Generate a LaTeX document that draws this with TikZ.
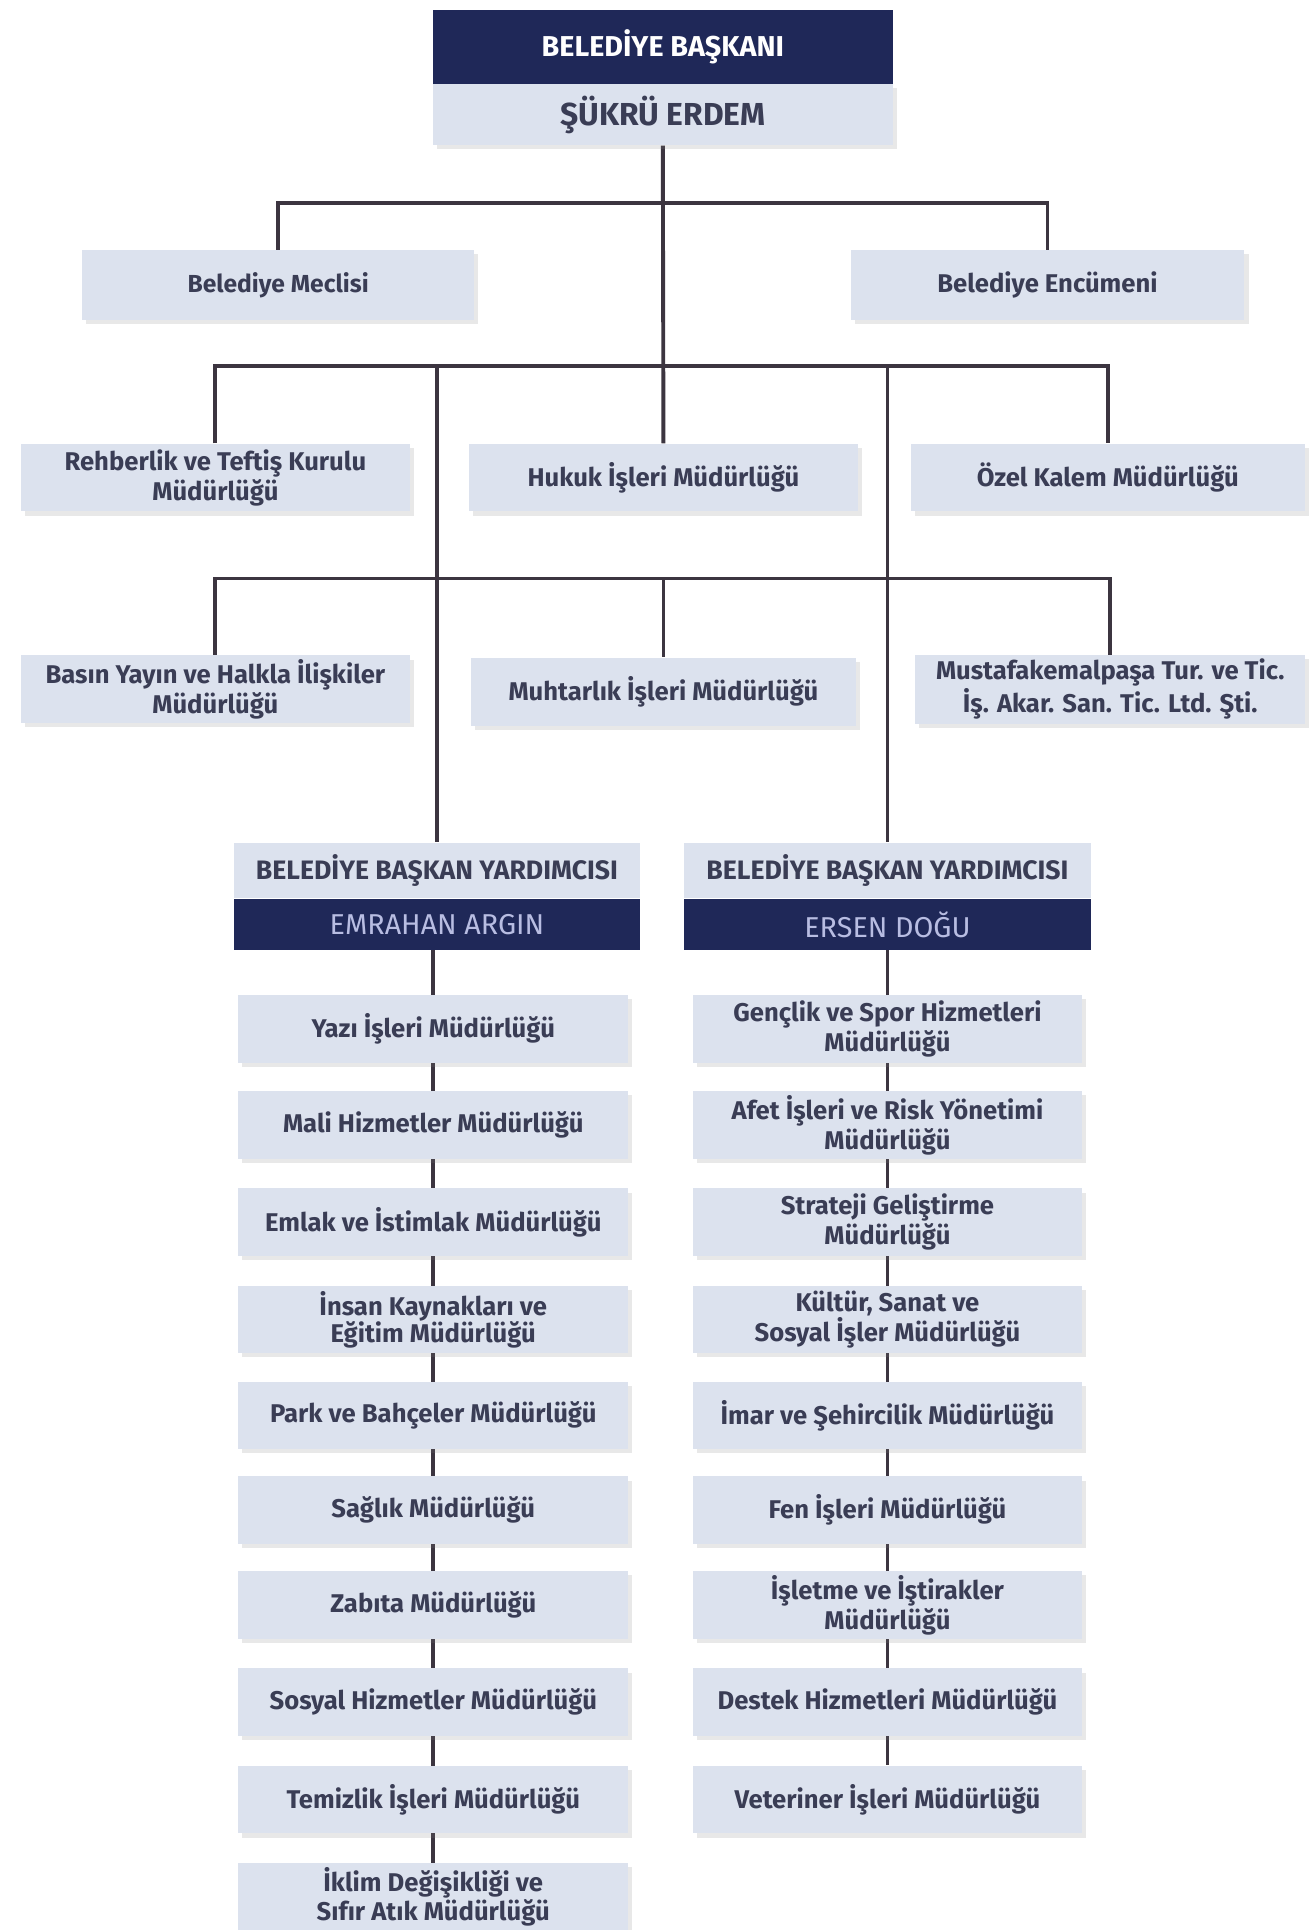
\documentclass[tikz,border=0pt]{standalone}
\usepackage{fontspec}
\setmainfont{Fira Sans}
\usetikzlibrary{shadows,backgrounds}
\definecolor{navy}{HTML}{1F2858}
\definecolor{boxfill}{HTML}{DCE2EE}
\definecolor{txt}{HTML}{3A3D55}
\definecolor{linec}{HTML}{3C3540}
\definecolor{lighttxt}{HTML}{B8BDE2}
\begin{document}
\begin{tikzpicture}[x=0.6pt,y=-0.6pt,
  unitbox/.style={fill=boxfill, text=txt, font=\fontsize{12.5}{13.2}\selectfont\bfseries,
    align=center, inner sep=2pt, minimum width=190pt, minimum height=33pt,
    drop shadow={opacity=0.18, shadow xshift=2pt, shadow yshift=-2pt}},
  navybox/.style={fill=navy, text=white, inner sep=2pt, align=center},
  lightbox/.style={fill=boxfill, text=txt, inner sep=2pt, align=center},
  conn/.style={draw=linec, line width=1.9pt}]
\useasboundingbox (0,0) rectangle (1065,1568);

% top
\node[navybox, minimum width=224pt, minimum height=36pt, font=\fontsize{14}{15}\selectfont\bfseries] (bsk) at (538.5,38) {BELEDİYE BAŞKANI};
\node[lightbox, minimum width=224pt, minimum height=30pt, font=\fontsize{15.5}{16}\selectfont\bfseries,
  drop shadow={opacity=0.18, shadow xshift=2pt, shadow yshift=-2pt}] (name) at (538.5,93) {ŞÜKRÜ ERDEM};

% row 1
\node[unitbox, minimum width=191pt, minimum height=34pt, font=\fontsize{12}{13}\selectfont\bfseries] (meclis) at (226,231.5) {Belediye Meclisi};
\node[unitbox, minimum width=192pt, minimum height=34pt] (encumen) at (851,231.5) {Belediye Encümeni};

% row 2
\node[unitbox] (rehber) at (175,388) {Rehberlik ve Teftiş Kurulu\\Müdürlüğü};
\node[unitbox] (hukuk) at (539,388) {Hukuk İşleri Müdürlüğü};
\node[unitbox, minimum width=192pt] (ozel) at (900,388) {Özel Kalem Müdürlüğü};

% row 3
\node[unitbox] (basin) at (175,560) {Basın Yayın ve Halkla İlişkiler\\Müdürlüğü};
\node[unitbox, minimum width=188pt] (muhtar) at (539,562) {Muhtarlık İşleri Müdürlüğü};
\node[unitbox] (mkp) at (902,560) {Mustafakemalpaşa Tur. ve Tic.\\İş. Akar. San. Tic. Ltd. Şti.};

% deputies
\node[lightbox, minimum width=198pt, minimum height=27pt, font=\fontsize{13}{14}\selectfont\bfseries] (byL) at (355,707) {BELEDİYE BAŞKAN YARDIMCISI};
\node[navybox, minimum width=198pt, minimum height=25pt, text=lighttxt, font=\fontsize{14}{15}\selectfont] (nmL) at (355,751) {EMRAHAN ARGIN};
\node[lightbox, minimum width=198pt, minimum height=27pt, font=\fontsize{13}{14}\selectfont\bfseries] (byR) at (721,707) {BELEDİYE BAŞKAN YARDIMCISI};
\node[navybox, minimum width=198pt, minimum height=25pt, text=lighttxt, font=\fontsize{14}{15}\selectfont] (nmR) at (721,751) {ERSEN DOĞU};

% left column
\foreach \n/\y/\t in {
  L1/836/{Yazı İşleri Müdürlüğü},
  L2/914/{Mali Hizmetler Müdürlüğü},
  L3/993/{Emlak ve İstimlak Müdürlüğü},
  L4/1072/{İnsan Kaynakları ve\\Eğitim Müdürlüğü},
  L5/1150/{Park ve Bahçeler Müdürlüğü},
  L6/1227/{Sağlık Müdürlüğü},
  L7/1304/{Zabıta Müdürlüğü},
  L8/1383/{Sosyal Hizmetler Müdürlüğü},
  L9/1462/{Temizlik İşleri Müdürlüğü},
  L10/1541/{İklim Değişikliği ve\\Sıfır Atık Müdürlüğü}}
  {\node[unitbox] (\n) at (352,\y) {\t};}

% right column
\foreach \n/\y/\t in {
  R1/836/{Gençlik ve Spor Hizmetleri\\Müdürlüğü},
  R2/914/{Afet İşleri ve Risk Yönetimi\\Müdürlüğü},
  R3/993/{Strateji Geliştirme\\Müdürlüğü},
  R4/1072/{Kültür, Sanat ve\\Sosyal İşler Müdürlüğü},
  R5/1150/{İmar ve Şehircilik Müdürlüğü},
  R6/1227/{Fen İşleri Müdürlüğü},
  R7/1304/{İşletme ve İştirakler\\Müdürlüğü},
  R8/1383/{Destek Hizmetleri Müdürlüğü},
  R9/1462/{Veteriner İşleri Müdürlüğü}}
  {\node[unitbox] (\n) at (721,\y) {\t};}

\coordinate (bar1) at (538.5,165);
\coordinate (bar2) at (539,297);
\coordinate (bar3) at (539,470);

\begin{scope}[on background layer]
  \fill[white] (0,0) rectangle (1065,1568);
  \draw[conn] (name.south) -- (hukuk.north);
  \draw[conn] (meclis.north) |- (bar1) -| (encumen.north);
  \draw[conn] (rehber.north) |- (bar2) -| (ozel.north);
  \draw[conn] (basin.north) |- (bar3) -| (mkp.north);
  \draw[conn] (bar3) -- (muhtar.north);
  \draw[conn] (byL.north |- bar2) -- (byL.north);
  \draw[conn] (byR.north |- bar2) -- (byR.north);
  \draw[conn] (nmL.south -| L1.north) -- (L10.north);
  \draw[conn] (nmR.south) -- (R9.north);
\end{scope}
\end{tikzpicture}
\end{document}
